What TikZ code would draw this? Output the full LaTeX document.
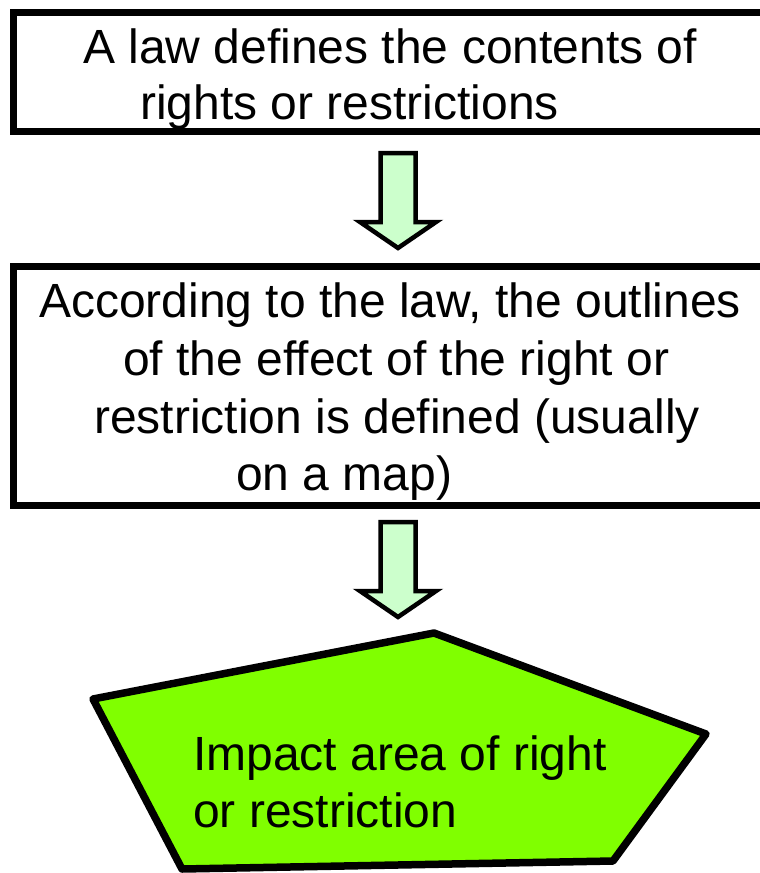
\documentclass[tikz,border=0pt]{standalone}
\usepackage{fontspec}
\setmainfont{Liberation Sans}
\definecolor{arrowgreen}{HTML}{CCFFCC}
\definecolor{areagreen}{HTML}{80FF00}
\begin{document}
\begin{tikzpicture}[x=1pt,y=-1pt,
  boxline/.style={line width=7pt, draw=black, fill=white},
  blockarrow/.style={line width=4.5pt, draw=black, fill=arrowgreen, line join=miter},
  area/.style={line width=7.5pt, draw=black, fill=areagreen, line join=round},
  txt/.style={inner sep=0pt, anchor=base west, font=\fontsize{48}{57}\selectfont},
  pics/downarrow/.style={code={
    \draw[blockarrow] (-17.5,0) -- (17.5,0) -- (17.5,69) -- (38,69) -- (0,95)
      -- (-38,69) -- (-17.5,69) -- cycle;}}
]
\useasboundingbox (0,0) rectangle (760,873);
\clip (0,0) rectangle (760,873);

% box 1
\draw[boxline] (13,12) rectangle (800,131);
\node[txt] (t1a) at (83,63) {A law defines the contents of};
\node[txt] (t1b) at (140,119) {rights or restrictions};

% arrow 1
\pic at (398,153) {downarrow};

% box 2
\draw[boxline] (13,266) rectangle (800,505);
\node[txt] (t2a) at (39,317) {According to the law, the outlines};
\node[txt] (t2b) at (123,375) {of the effect of the right or};
\node[txt] (t2c) at (94,433) {restriction is defined (usually};
\node[txt] (t2d) at (236,490) {on a map)};

% arrow 2
\pic at (398,522) {downarrow};

% impact area
\draw[area] (434,633) -- (706,734) -- (613,861) -- (182,869) -- (93,699) -- cycle;
\node[txt] (t3a) at (193,770) {Impact area of right};
\node[txt] (t3b) at (193,827) {or restriction};
\end{tikzpicture}
\end{document}
